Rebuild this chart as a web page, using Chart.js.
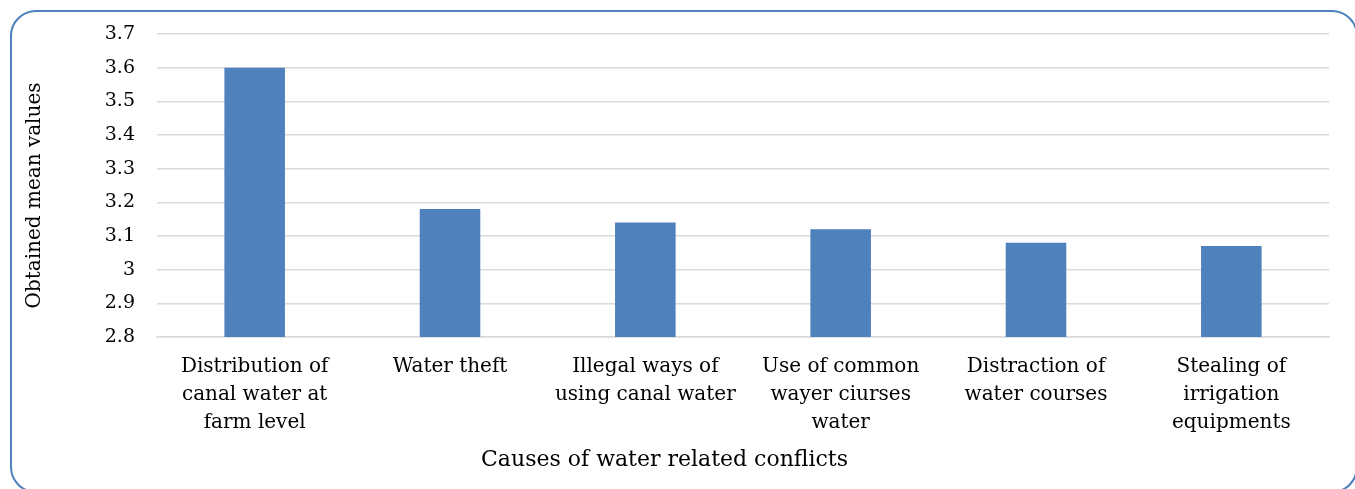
<!DOCTYPE html>
<html>
<head>
<meta charset="utf-8">
<script src="https://cdn.jsdelivr.net/npm/chart.js@4.4.0/dist/chart.umd.min.js"></script>
<style>
  html, body { margin: 0; padding: 0; background: #fff; }
  body { width: 1355px; height: 489px; overflow: hidden; position: relative; }
  #frame { position: absolute; left: 10px; top: 10px; width: 1348px; height: 483px;
           border: 2px solid #4f81bd; border-radius: 26px; box-sizing: border-box; }
  #wrap { position: absolute; left: 0; top: 0; width: 1355px; height: 489px; }
</style>
</head>
<body>
<div id="frame"></div>
<div id="wrap"><canvas id="c" width="1355" height="489"></canvas></div>
<script>
const categories = [
  ["Distribution of", "canal water at", "farm level"],
  ["Water theft"],
  ["Illegal ways of", "using canal water"],
  ["Use of common", "wayer ciurses", "water"],
  ["Distraction of", "water courses"],
  ["Stealing of", "irrigation", "equipments"]
];
const meanValues = [3.6, 3.18, 3.14, 3.12, 3.08, 3.07];
const yTickMin = 2.8;
const yTickMax = 3.7;
const yTickStep = 0.1;
const xTitle = "Causes of water related conflicts";
const yTitle = "Obtained mean values";

const FONT = "'DejaVu Serif', serif";

// Draws the y-axis title, centred a little below the plot-area middle (as in the source)
const yTitlePlugin = {
  id: 'yTitle',
  afterDraw(chart) {
    const ctx = chart.ctx;
    const area = chart.chartArea;
    const cy = (area.top + area.bottom) / 2 + 10;
    ctx.save();
    ctx.translate(35, cy);
    ctx.rotate(-Math.PI / 2);
    ctx.font = "20px " + FONT;
    ctx.fillStyle = '#000';
    ctx.textAlign = 'center';
    ctx.textBaseline = 'middle';
    ctx.fillText(yTitle, 0, 0);
    ctx.restore();
  }
};

new Chart(document.getElementById('c'), {
  type: 'bar',
  data: {
    labels: categories,
    datasets: [{
      data: meanValues,
      backgroundColor: '#4f81bd',
      borderWidth: 0,
      categoryPercentage: 1,
      barPercentage: 0.31
    }]
  },
  plugins: [yTitlePlugin],
  options: {
    responsive: false,
    animation: false,
    layout: { padding: { top: 34, right: 26, left: 0, bottom: 0 } },
    plugins: {
      legend: { display: false },
      tooltip: { enabled: false },
      title: {
        display: true, position: 'bottom', fullSize: true, text: xTitle,
        color: '#000', font: { family: FONT, size: 22, weight: 'normal', lineHeight: 1.2 },
        padding: { top: 0, bottom: 16 }
      }
    },
    scales: {
      x: {
        grid: { display: false, drawTicks: false },
        border: { display: true, color: '#d9d9d9', width: 1.5 },
        ticks: {
          color: '#000', autoSkip: false, maxRotation: 0, minRotation: 0,
          padding: 16,
          font: { family: FONT, size: 20, lineHeight: 1.4 }
        },
        afterFit: (s) => { s.height = 109.6; }
      },
      y: {
        min: yTickMin, max: yTickMax,
        grid: { color: '#d9d9d9', lineWidth: 1.5, drawTicks: false },
        border: { display: false },
        ticks: {
          stepSize: yTickStep, color: '#000', padding: 22,
          font: { family: FONT, size: 19 },
          callback: (v) => String(Number(v.toFixed(1)))
        },
        afterFit: (s) => { s.width = 157; }
      }
    }
  }
});
</script>
</body>
</html>
